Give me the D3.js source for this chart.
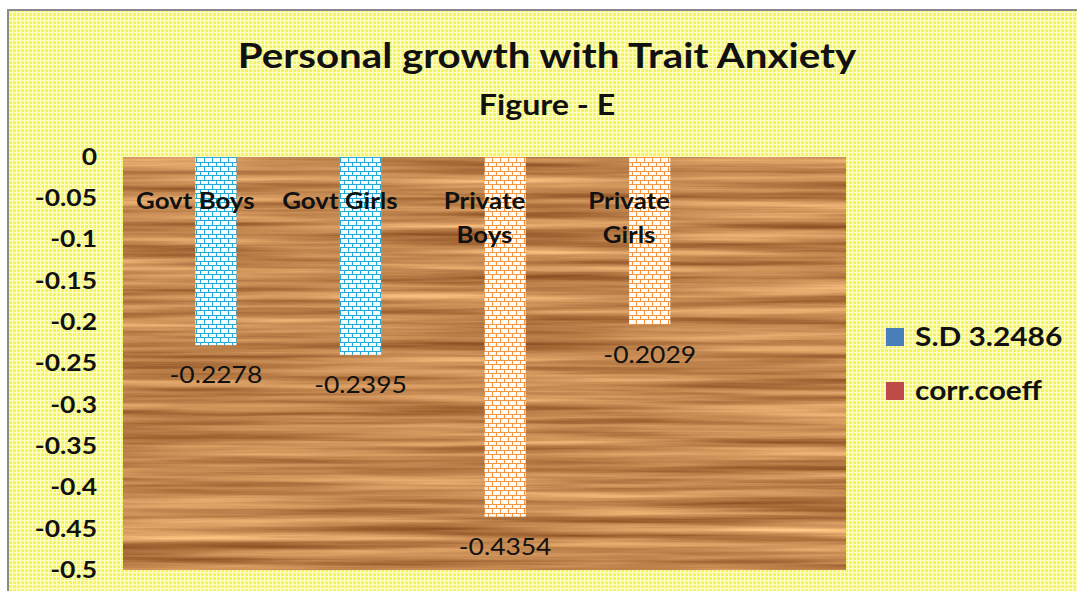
<!DOCTYPE html>
<html lang="en">
  <head>
    <meta charset="utf-8">
    <title>Personal growth with Trait Anxiety</title>
    <script src="https://d3js.org/d3.v7.js"></script>
    <style>
      body { margin: 0; background: white; }
      text { font-family: Lato, "Open Sans", sans-serif; fill: #111; }
    </style>
  </head>

  <body>
    <script>

      // chart data
      const categories = ["Govt Boys", "Govt Girls", "Private Boys", "Private Girls"];
      const values = [-0.2278, -0.2395, -0.4354, -0.2029];
      const valueLabels = ["-0.2278", "-0.2395", "-0.4354", "-0.2029"];
      const seriesNames = ["S.D 3.2486", "corr.coeff"];
      const yTicks = [0, -0.05, -0.1, -0.15, -0.2, -0.25, -0.3, -0.35, -0.4, -0.45, -0.5];

      const w = 1077;
      const h = 591;
      const plot = {left: 123, top: 157, right: 846, bottom: 570};
      const slots = 5;   // excel left an empty fifth slot on the right
      const sx = 1.15;   // the source font runs wider than Lato

      const slotWidth = (plot.right - plot.left) / slots;

      const xScale = d3.scaleBand()
                       .domain(categories)
                       .range([plot.left, plot.left + slotWidth * categories.length]);

      const yScale = d3.scaleLinear()
                       .domain([0, -0.5])
                       .range([plot.top, plot.bottom]);

      const barWidth = xScale.bandwidth() * 0.285;

      const svg = d3.select("body")
                    .append("svg")
                    .attr("width", w)
                    .attr("height", h);

      const defs = svg.append("defs");

      // yellow checked background
      const grid = defs.append("pattern")
                       .attr("id", "yellowGrid")
                       .attr("patternUnits", "userSpaceOnUse")
                       .attr("width", 4)
                       .attr("height", 4);
      grid.append("rect").attr("width", 4).attr("height", 4).attr("fill", "#f3f35c");
      grid.append("rect").attr("width", 4).attr("height", 1.2).attr("fill", "#fdfdc4");
      grid.append("rect").attr("width", 1.2).attr("height", 4).attr("fill", "#fdfdc4");

      // brick fills for the bars
      function brick(id, line, back) {
        const p = defs.append("pattern")
                      .attr("id", id)
                      .attr("patternUnits", "userSpaceOnUse")
                      .attr("width", 8)
                      .attr("height", 9)
                      .attr("shape-rendering", "crispEdges");
        p.append("rect").attr("width", 8).attr("height", 9).attr("fill", back);
        p.append("rect").attr("x", 0).attr("y", 0).attr("width", 8).attr("height", 1).attr("fill", line);
        p.append("rect").attr("x", 0).attr("y", 4).attr("width", 8).attr("height", 1).attr("fill", line);
        p.append("rect").attr("x", 0).attr("y", 0).attr("width", 1).attr("height", 4).attr("fill", line);
        p.append("rect").attr("x", 4).attr("y", 4).attr("width", 1).attr("height", 5).attr("fill", line);
      }
      brick("brickBlue", "#23a9d6", "#f4fdff");
      brick("brickOrange", "#f29440", "#fffcf8");

      // wood grain for the plot area
      const wood = defs.append("filter")
                       .attr("id", "wood")
                       .attr("filterUnits", "userSpaceOnUse")
                       .attr("color-interpolation-filters", "sRGB")
                       .attr("x", plot.left)
                       .attr("y", plot.top)
                       .attr("width", plot.right - plot.left)
                       .attr("height", plot.bottom - plot.top);
      wood.append("feTurbulence")
          .attr("type", "fractalNoise")
          .attr("baseFrequency", "0.003 0.12")
          .attr("numOctaves", 4)
          .attr("seed", 7)
          .attr("result", "noise");
      wood.append("feColorMatrix")
          .attr("in", "noise")
          .attr("type", "matrix")
          .attr("values", "0.6 0 0 0 0.465  0.6 0 0 0 0.23  0.5 0 0 0 0.065  0 0 0 0 1");

      // outer chart area
      svg.append("rect")
         .attr("x", 8)
         .attr("y", 10)
         .attr("width", w)
         .attr("height", h)
         .attr("fill", "url(#yellowGrid)")
         .attr("stroke", "#8a8a8a")
         .attr("stroke-width", 2);

      // plot area
      svg.append("rect")
         .attr("x", plot.left)
         .attr("y", plot.top)
         .attr("width", plot.right - plot.left)
         .attr("height", plot.bottom - plot.top)
         .attr("fill", "#c48a55")
         .attr("filter", "url(#wood)");

      // titles
      svg.append("text")
         .attr("transform", `translate(547, 68) scale(${sx}, 1)`)
         .attr("text-anchor", "middle")
         .attr("font-size", 35)
         .attr("font-weight", "bold")
         .text("Personal growth with Trait Anxiety");

      svg.append("text")
         .attr("transform", `translate(547, 115) scale(${sx}, 1)`)
         .attr("text-anchor", "middle")
         .attr("font-size", 28)
         .attr("font-weight", "bold")
         .text("Figure - E");

      // y axis, labels only
      const yAxis = d3.axisLeft(yScale)
                      .tickValues(yTicks)
                      .tickFormat(d => String(+d.toFixed(2)))
                      .tickSize(0)
                      .tickPadding(0);

      svg.append("g")
         .attr("class", "yAxis")
         .attr("transform", "translate(97, 0)")
         .call(yAxis)
         .call(g => g.select(".domain").remove())
         .selectAll("text")
         .attr("x", 0)
         .attr("transform", `scale(${sx}, 1)`)
         .attr("font-size", 23)
         .attr("font-weight", "bold")
         .attr("font-family", "Lato, sans-serif")
         .attr("fill", "#111");

      // bars
      const isGovt = name => name.startsWith("Govt");

      svg.append("g")
         .attr("id", "bars")
         .selectAll("rect")
         .data(categories)
         .join("rect")
         .attr("x", d => xScale(d) + xScale.bandwidth() / 2)
         .attr("y", yScale(0))
         .attr("width", barWidth)
         .attr("height", (d, i) => yScale(values[i]) - yScale(0))
         .attr("fill", d => isGovt(d) ? "url(#brickBlue)" : "url(#brickOrange)");

      // category labels drawn inside the plot, wrapped like excel
      const catLabels = svg.append("g")
                           .selectAll("text")
                           .data(categories)
                           .join("text")
                           .attr("transform", d => `translate(${xScale(d) + xScale.bandwidth() / 2}, 209) scale(${sx}, 1)`)
                           .attr("text-anchor", "middle")
                           .attr("font-size", 22.5)
                           .attr("font-weight", "bold");

      catLabels.each(function(d) {
        const t = d3.select(this);
        const words = d.split(" ");
        if (d.length > 10) {
          words.forEach((word, k) => {
            t.append("tspan")
             .attr("x", 0)
             .attr("dy", k === 0 ? 0 : 34)
             .text(word);
          });
        } else {
          t.text(d);
        }
      });

      // value labels below the bar ends
      svg.append("g")
         .selectAll("text")
         .data(categories)
         .join("text")
         .attr("transform", (d, i) => `translate(${xScale(d) + xScale.bandwidth() / 2 + barWidth / 2}, ${yScale(values[i]) + 38}) scale(${sx}, 1)`)
         .attr("text-anchor", "middle")
         .attr("font-size", 23)
         .text((d, i) => valueLabels[i]);

      // legend
      const legendColors = ["#4a7ebb", "#be4b48"];
      const legend = svg.append("g")
                        .selectAll("g")
                        .data(seriesNames)
                        .join("g")
                        .attr("transform", (d, i) => `translate(886, ${328 + i * 54})`);

      legend.append("rect")
            .attr("width", 18)
            .attr("height", 18)
            .attr("fill", (d, i) => legendColors[i]);

      legend.append("text")
            .attr("transform", `translate(29, 18) scale(${sx}, 1)`)
            .attr("font-size", 26)
            .attr("font-weight", "bold")
            .text(d => d);

    </script>
  </body>
</html>
